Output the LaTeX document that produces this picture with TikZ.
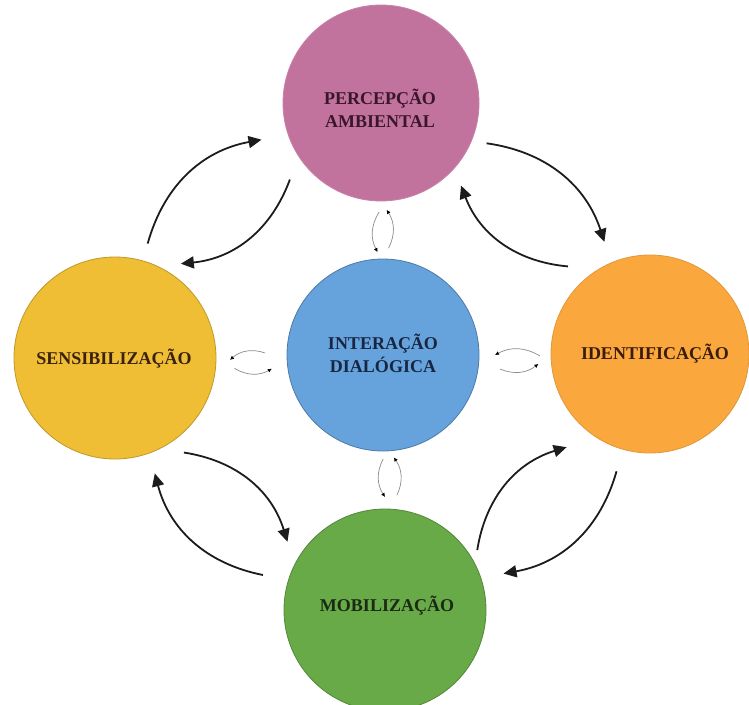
\documentclass[tikz,border=0pt]{standalone}
\usepackage{fontspec}
\setmainfont{Liberation Serif}
\usetikzlibrary{arrows.meta}
\definecolor{pinkc}{RGB}{193,115,158}
\definecolor{yellowc}{RGB}{239,190,52}
\definecolor{bluec}{RGB}{102,163,221}
\definecolor{orangec}{RGB}{250,168,62}
\definecolor{greenc}{RGB}{104,169,72}
\definecolor{perct}{RGB}{58,22,42}
\definecolor{senst}{RGB}{58,34,16}
\definecolor{intert}{RGB}{24,38,66}
\definecolor{ident}{RGB}{58,28,12}
\definecolor{mobt}{RGB}{26,42,20}
\definecolor{arrowc}{RGB}{28,28,28}
\begin{document}
\begin{tikzpicture}[x=1pt,y=-1pt,
  disc/.style={circle,inner sep=0pt,outer sep=0pt,minimum size=#1,line width=0.8pt},
  lbl/.style={font=\fontsize{18}{23}\selectfont\bfseries,align=center,inner sep=0pt},
  bigarrow/.style={line width=1.8pt,draw=arrowc,-{Triangle[length=13pt,width=12pt]}},
  smallarrow/.style={line width=0.7pt,draw=black!45,-{Latex[length=4pt,width=4pt,color=black]}}]
\fill[white] (0,0) rectangle (749,704);
\useasboundingbox (0,0) rectangle (749,704);

% circles
\node[disc=196pt,fill=pinkc,draw=pinkc!90!white] (perc) at (381,103) {};
\node[disc=202pt,fill=yellowc,draw=yellowc!80!black] (sens) at (115,358) {};
\node[disc=192pt,fill=bluec,draw=bluec!75!black] (inter) at (383,355) {};
\node[disc=198pt,fill=orangec,draw=orangec!90!black] (iden) at (650,354) {};
\node[disc=202pt,fill=greenc,draw=greenc!80!black] (mob) at (385,610) {};

% labels
\node[lbl,text=perct] (perctext) at (380,108) {PERCEPÇÃO\\AMBIENTAL};
\node[lbl,text=senst] (senstext) at (114,359) {SENSIBILIZAÇÃO};
\node[lbl,text=intert] (intertext) at (383,353) {INTERAÇÃO\\DIALÓGICA};
\node[lbl,text=ident] (identext) at (655,354) {IDENTIFICAÇÃO};
\node[lbl,text=mobt] (mobtext) at (387,606) {MOBILIZAÇÃO};

% big curved arrows between outer circles
\draw[bigarrow] ([shift={(74.4:18pt)}]sens.74.4) to[bend left=32] ([shift={(197.3:27pt)}]perc.197.3);
\draw[bigarrow] ([shift={(220.2:21pt)}]perc.220.2) to[bend left=32] ([shift={(55.6:14pt)}]sens.55.6);
\draw[bigarrow] ([shift={(339.8:15pt)}]perc.339.8) to[bend left=32] ([shift={(112.8:22pt)}]iden.112.8);
\draw[bigarrow] ([shift={(133.7:21pt)}]iden.133.7) to[bend left=32] ([shift={(314.6:17pt)}]perc.314.6);
\draw[bigarrow] ([shift={(306.7:16pt)}]sens.306.7) to[bend left=32] ([shift={(145.2:18pt)}]mob.145.2);
\draw[bigarrow] ([shift={(164:26pt)}]mob.164) to[bend left=32] ([shift={(289.2:21pt)}]sens.289.2);
\draw[bigarrow] ([shift={(33.1:9pt)}]mob.33.1) to[bend left=32] ([shift={(228.9:26pt)}]iden.228.9);
\draw[bigarrow] ([shift={(254.4:23pt)}]iden.254.4) to[bend left=32] ([shift={(17.4:23pt)}]mob.17.4);

% small arrows around the centre
\draw[smallarrow] ([shift={(179:22pt)}]inter.179) to[bend right=30] ([shift={(359.5:14pt)}]sens.359.5);
\draw[smallarrow] ([shift={(355.2:19pt)}]sens.355.2) to[bend right=30] ([shift={(187.2:16pt)}]inter.187.2);
\draw[smallarrow] ([shift={(181.6:11pt)}]iden.181.6) to[bend right=30] ([shift={(0:16pt)}]inter.0);
\draw[smallarrow] ([shift={(353.7:22pt)}]inter.353.7) to[bend right=30] ([shift={(185.6:13pt)}]iden.185.6);
\draw[smallarrow] ([shift={(269.5:11pt)}]perc.269.5) to[bend right=30] ([shift={(93.3:7pt)}]inter.93.3);
\draw[smallarrow] ([shift={(87.3:11pt)}]inter.87.3) to[bend right=30] ([shift={(273.2:9pt)}]perc.273.2);
\draw[smallarrow] ([shift={(270.6:8pt)}]inter.270.6) to[bend right=30] ([shift={(90:12pt)}]mob.90);
\draw[smallarrow] ([shift={(84.5:14.5pt)}]mob.84.5) to[bend right=30] ([shift={(276.7:7pt)}]inter.276.7);
\end{tikzpicture}
\end{document}
